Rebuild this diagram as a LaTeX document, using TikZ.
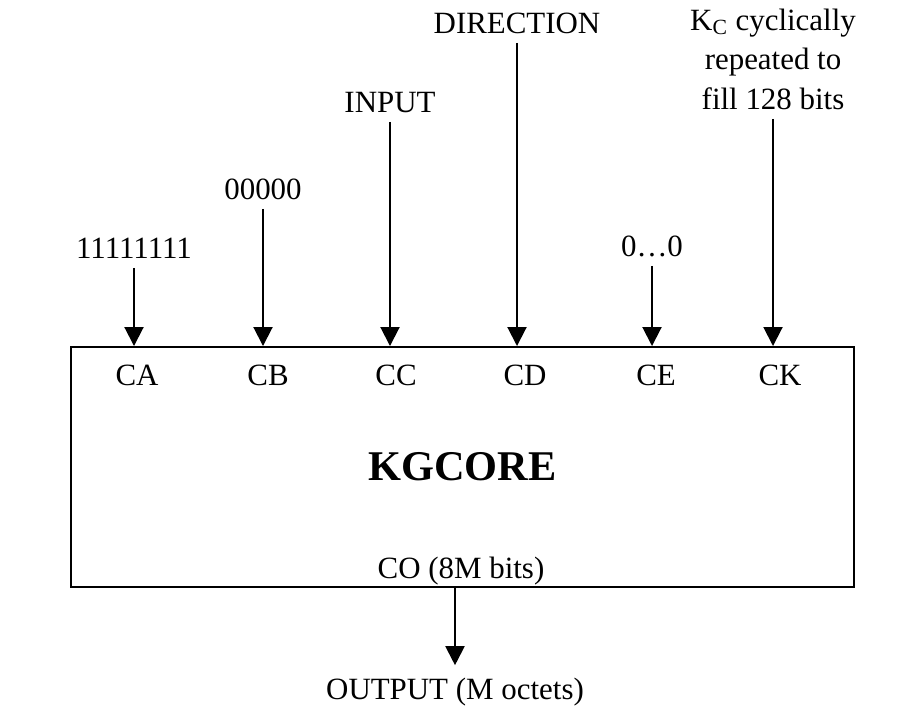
\documentclass[tikz,border=0pt]{standalone}
\usepackage{fontspec}
\setmainfont{Liberation Serif}
\usepackage{tikz}
\usetikzlibrary{arrows.meta, positioning}

\tikzset{
	feed/.style={line width=0.04cm, -{Triangle[length=0.38cm, width=0.38cm]}},
	inlabel/.style={anchor=south, inner xsep=0, inner ysep=0.18cm, align=center},
	portlabel/.style={anchor=base, inner sep=0}
}

\begin{document}
\begin{tikzpicture}[x=0.02cm, y=-0.02cm, line cap=butt, line join=miter,
	font=\fontsize{17.6pt}{22.5pt}\selectfont]
	\useasboundingbox (0,0) rectangle (902,722);
	% core block
	\node[draw, line width=0.04cm, minimum width=15.66cm, minimum height=4.8cm,
		inner sep=0, font=\fontsize{24.1pt}{28pt}\selectfont\bfseries] (core) at (462.5,467) {KGCORE};
	% inputs above the block
	\node[inlabel] (inA) at (134,268) {11111111};
	\node[inlabel] (inB) at (263,209) {00000};
	\node[inlabel] (inC) at (390,122) {INPUT};
	\node[inlabel] (inD) at (517,43) {DIRECTION};
	\node[inlabel] (inE) at (652,266) {0…0};
	\node[inlabel] (inK) at (773,119) {K\textsubscript{C} cyclically\\repeated to\\fill 128 bits};
	\foreach \n in {A,B,C,D,E,K}
		\draw[feed] (in\n.south) -- (in\n.south |- core.north);
	% port names inside the block
	\node[portlabel] (pA) at (137,386) {CA};
	\node[portlabel] (pB) at (268,386) {CB};
	\node[portlabel] (pC) at (396,386) {CC};
	\node[portlabel] (pD) at (525,386) {CD};
	\node[portlabel] (pE) at (656,386) {CE};
	\node[portlabel] (pK) at (780,386) {CK};
	\node[portlabel] (pO) at (461,578) {CO (8M bits)};
	% output
	\node[anchor=base, inner xsep=0, inner ysep=0.24cm] (out) at (455,699) {OUTPUT (M octets)};
	\draw[feed] (core.south -| out.north) -- (out.north);
\end{tikzpicture}
\end{document}
